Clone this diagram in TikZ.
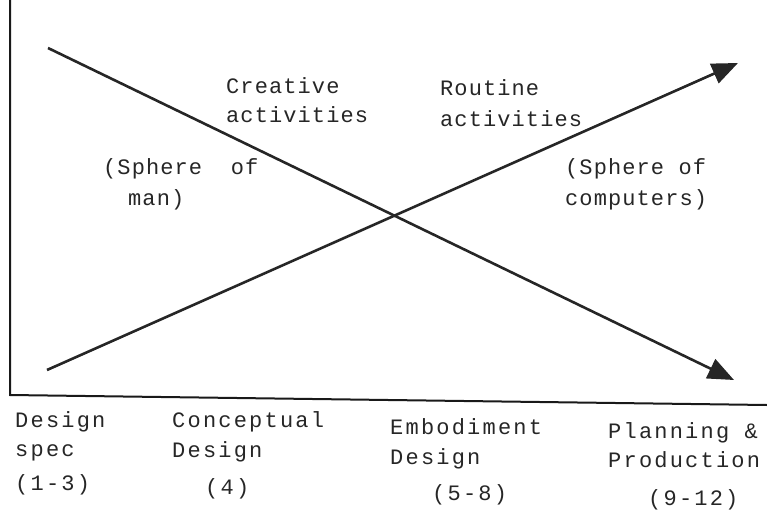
\documentclass[tikz,border=0pt]{standalone}
\usepackage{fontspec}
\setmainfont[LetterSpace=10]{Liberation Mono}
\newfontfamily\midfont[LetterSpace=5]{Liberation Mono}
\usetikzlibrary{arrows.meta}
\begin{document}
\begin{tikzpicture}[x=1pt,y=-1pt,
  lbl/.style={anchor=base west,inner sep=0pt,font=\fontsize{22}{26}\selectfont,text=black!85},
  midlbl/.style={lbl,font=\fontsize{22}{26}\midfont},
  trend/.style={line width=2.6pt,draw=black!85,-{Triangle[length=26pt,width=21pt]}},
  axis/.style={line width=2pt,draw=black!90}]
\useasboundingbox (0,0) rectangle (767,513);
% axes
\coordinate (top) at (10,0);
\coordinate (origin) at (10,395);
\coordinate (xend) at (767,405);
\draw[axis] (top) -- (origin) -- (xend);
% trend lines
\coordinate (d0) at (48,48);
\coordinate (d1) at (734,380);
\coordinate (a0) at (47,370);
\coordinate (a1) at (738,63);
\draw[trend] (d0) -- (d1);
\draw[trend] (a0) -- (a1);
% labels in the field
\node[midlbl] (cre1) at (226,94) {Creative};
\node[midlbl] (cre2) at (226,123) {activities};
\node[midlbl] (rou1) at (440,96) {Routine};
\node[midlbl] (rou2) at (440,127) {activities};
\node[midlbl] (man1) at (103,175) {(Sphere\ \ of};
\node[midlbl] (man2) at (128,205) {man)};
\node[midlbl] (com1) at (565,175) {(Sphere of};
\node[midlbl] (com2) at (565,205) {computers)};
% stage labels
\node[lbl] (s1a) at (15,427) {Design};
\node[lbl] (s1b) at (15,456) {spec};
\node[lbl] (s1c) at (15,490) {(1-3)};
\node[lbl] (s2a) at (172,427) {Conceptual};
\node[lbl] (s2b) at (172,457) {Design};
\node[lbl] (s2c) at (205,494) {(4)};
\node[lbl] (s3a) at (390,434) {Embodiment};
\node[lbl] (s3b) at (390,464) {Design};
\node[lbl] (s3c) at (432,500) {(5-8)};
\node[lbl] (s4a) at (608,438) {Planning \&};
\node[lbl] (s4b) at (608,467) {Production};
\node[lbl] (s4c) at (648,505) {(9-12)};
\end{tikzpicture}
\end{document}
